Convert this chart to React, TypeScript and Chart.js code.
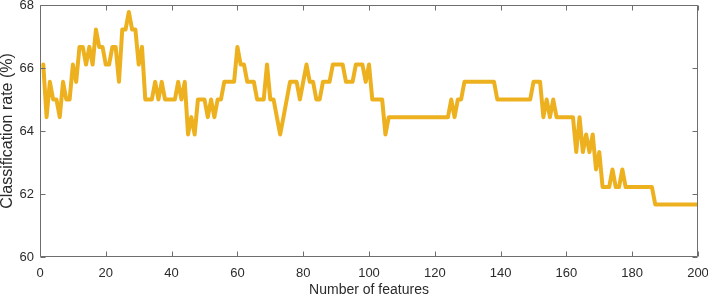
import React, { useEffect, useRef } from "react";
import { Chart, registerables } from "chart.js";

// Classification rate (%) for feature counts 1..200
const rates: number[] = [
  66.11, 64.44, 65.56, 65.0, 65.0, 64.44, 65.56, 65.0, 65.0, 66.11,
  65.56, 66.67, 66.67, 66.11, 66.67, 66.11, 67.22, 66.67, 66.67, 66.11,
  66.11, 66.67, 66.67, 65.56, 67.22, 67.22, 67.78, 67.22, 67.22, 66.11,
  66.67, 65.0, 65.0, 65.0, 65.56, 65.0, 65.56, 65.0, 65.0, 65.0,
  65.0, 65.56, 65.0, 65.56, 63.89, 64.44, 63.89, 65.0, 65.0, 65.0,
  64.44, 65.0, 64.44, 65.0, 65.0, 65.56, 65.56, 65.56, 65.56, 66.67,
  66.11, 66.11, 65.56, 65.56, 65.56, 65.0, 65.0, 65.0, 66.11, 65.0,
  65.0, 64.44, 63.89, 64.44, 65.0, 65.56, 65.56, 65.56, 65.0, 65.56,
  66.11, 65.56, 65.56, 65.0, 65.0, 65.56, 65.56, 65.56, 66.11, 66.11,
  66.11, 66.11, 65.56, 65.56, 65.56, 66.11, 66.11, 66.11, 65.56, 66.11,
  65.0, 65.0, 65.0, 65.0, 63.89, 64.44, 64.44, 64.44, 64.44, 64.44,
  64.44, 64.44, 64.44, 64.44, 64.44, 64.44, 64.44, 64.44, 64.44, 64.44,
  64.44, 64.44, 64.44, 64.44, 65.0, 64.44, 65.0, 65.0, 65.56, 65.56,
  65.56, 65.56, 65.56, 65.56, 65.56, 65.56, 65.56, 65.56, 65.0, 65.0,
  65.0, 65.0, 65.0, 65.0, 65.0, 65.0, 65.0, 65.0, 65.0, 65.56,
  65.56, 65.56, 64.44, 65.0, 64.44, 65.0, 64.44, 64.44, 64.44, 64.44,
  64.44, 64.44, 63.33, 64.44, 63.33, 63.89, 63.33, 63.89, 62.78, 63.33,
  62.22, 62.22, 62.22, 62.78, 62.22, 62.22, 62.78, 62.22, 62.22, 62.22,
  62.22, 62.22, 62.22, 62.22, 62.22, 62.22, 61.67, 61.67, 61.67, 61.67,
  61.67, 61.67, 61.67, 61.67, 61.67, 61.67, 61.67, 61.67, 61.67, 61.67,
];

const xTicks: number[] = [0, 20, 40, 60, 80, 100, 120, 140, 160, 180, 200];
const yTicks: number[] = [60, 62, 64, 66, 68];

const xTitle = "Number of features";
const yTitle = "Classification rate (%)";

const LINE_COLOR = "#EDB120";
const AXIS_COLOR = "#6e6e6e";
const TEXT_COLOR = "#2b2b2b";
const FONT = "'Liberation Sans', Arial, Helvetica, sans-serif";

const boxPlugin = {
  id: "matlabBox",
  afterDraw(chart: any) {
    const ctx = chart.ctx;
    const area = chart.chartArea;
    const sx = chart.scales.x;
    const sy = chart.scales.y;
    const left = Math.round(area.left) + 0.5;
    const right = Math.round(area.right) - 0.5;
    const top = Math.round(area.top) + 0.5;
    const bottom = Math.round(area.bottom) - 0.5;
    const tl = 5;
    ctx.save();
    ctx.strokeStyle = AXIS_COLOR;
    ctx.lineWidth = 1;
    ctx.beginPath();
    ctx.moveTo(left, top);
    ctx.lineTo(right, top);
    ctx.lineTo(right, bottom);
    ctx.lineTo(left, bottom);
    ctx.closePath();
    xTicks.forEach((v) => {
      const px = Math.round(sx.getPixelForValue(v)) + 0.5;
      ctx.moveTo(px, bottom);
      ctx.lineTo(px, bottom - tl);
      ctx.moveTo(px, top);
      ctx.lineTo(px, top + tl);
    });
    yTicks.forEach((v) => {
      const py = Math.round(sy.getPixelForValue(v)) + 0.5;
      ctx.moveTo(left, py);
      ctx.lineTo(left + tl, py);
      ctx.moveTo(right, py);
      ctx.lineTo(right - tl, py);
    });
    ctx.stroke();
    ctx.restore();
  },
};

Chart.register(...registerables, boxPlugin);

export default function App() {
  const canvasRef = useRef<HTMLCanvasElement | null>(null);

  useEffect(() => {
    if (!canvasRef.current) return;
    const points = rates.map((r, i) => ({ x: i + 1, y: r }));
    const chart = new Chart(canvasRef.current, {
      type: "line",
      data: {
        datasets: [
          {
            data: points,
            borderColor: LINE_COLOR,
            backgroundColor: LINE_COLOR,
            borderWidth: 4,
            pointRadius: 0,
            tension: 0,
            borderJoinStyle: "round",
            borderCapStyle: "round",
          },
        ],
      },
      options: {
        animation: false,
        responsive: true,
        maintainAspectRatio: false,
        layout: { padding: { top: 5, right: 10, left: 0, bottom: 0 } },
        plugins: { legend: { display: false }, tooltip: { enabled: false } },
        scales: {
          x: {
            type: "linear",
            min: 0,
            max: 200,
            afterBuildTicks: (s: any) => {
              s.ticks = xTicks.map((v) => ({ value: v }));
            },
            afterFit: (s: any) => {
              s.height = 42;
              s.paddingLeft = 0;
              s.paddingRight = 0;
            },
            grid: { display: false, drawTicks: false },
            border: { display: false },
            ticks: {
              padding: 9,
              maxRotation: 0,
              autoSkip: false,
              color: TEXT_COLOR,
              font: { family: FONT, size: 13 },
            },
            title: {
              display: true,
              text: xTitle,
              color: TEXT_COLOR,
              font: { family: FONT, size: 14, lineHeight: 1 },
              padding: { top: 0, bottom: 2 },
            },
          },
          y: {
            type: "linear",
            min: 60,
            max: 68,
            afterBuildTicks: (s: any) => {
              s.ticks = yTicks.map((v) => ({ value: v }));
            },
            afterFit: (s: any) => {
              s.width = 40;
              s.paddingTop = 0;
              s.paddingBottom = 0;
            },
            grid: { display: false, drawTicks: false },
            border: { display: false },
            ticks: {
              padding: 6,
              autoSkip: false,
              color: TEXT_COLOR,
              font: { family: FONT, size: 13 },
            },
            title: {
              display: true,
              text: yTitle,
              color: TEXT_COLOR,
              font: { family: FONT, size: 16, lineHeight: 1 },
              padding: { top: 0, bottom: 0 },
            },
          },
        },
      },
    });
    return () => chart.destroy();
  }, []);

  return (
    <div style={{ position: "fixed", left: 0, top: 0, width: 708, height: 299, background: "#fff" }}>
      <canvas ref={canvasRef} />
    </div>
  );
}
